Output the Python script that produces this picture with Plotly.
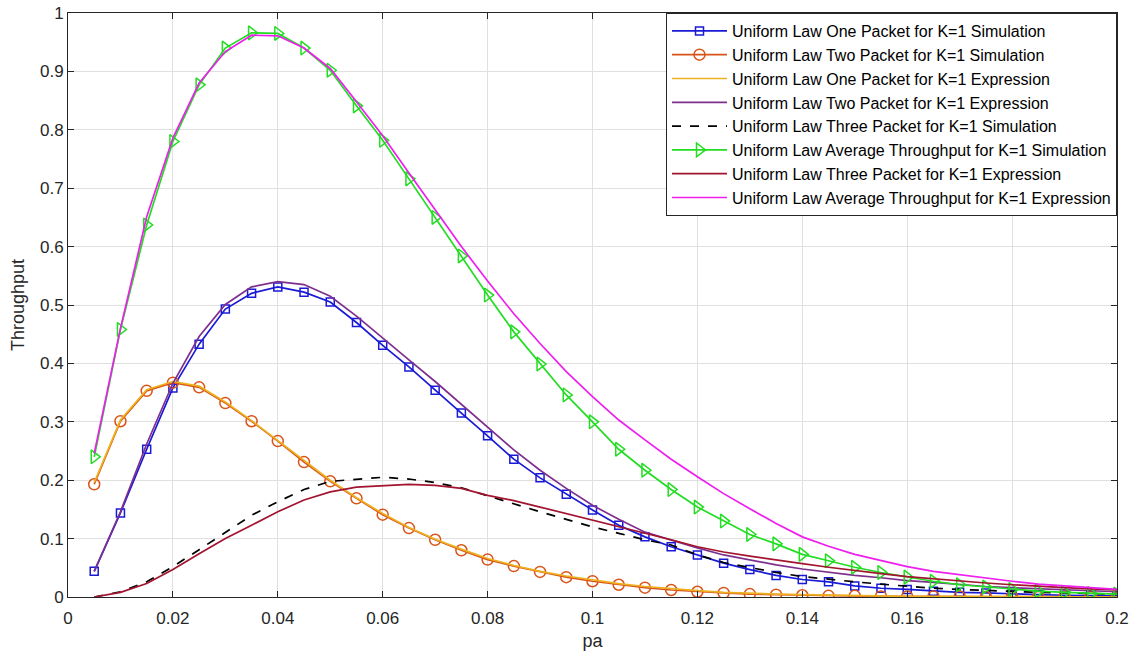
import plotly.graph_objects as go

pa = [0.005, 0.01, 0.015, 0.02, 0.025, 0.03, 0.035, 0.04, 0.045, 0.05,
      0.055, 0.06, 0.065, 0.07, 0.075, 0.08, 0.085, 0.09, 0.095, 0.1,
      0.105, 0.11, 0.115, 0.12, 0.125, 0.13, 0.135, 0.14, 0.145, 0.15,
      0.155, 0.16, 0.165, 0.17, 0.175, 0.18, 0.185, 0.19, 0.195, 0.2]

one_sim = [0.044, 0.144, 0.253, 0.358, 0.433, 0.493, 0.520, 0.531, 0.522, 0.505,
           0.470, 0.431, 0.394, 0.354, 0.315, 0.276, 0.236, 0.204, 0.176, 0.149,
           0.123, 0.103, 0.086, 0.072, 0.058, 0.047, 0.037, 0.030, 0.026, 0.019,
           0.015, 0.013, 0.010, 0.008, 0.007, 0.005, 0.004, 0.003, 0.003, 0.002]

two_sim = [0.193, 0.301, 0.353, 0.367, 0.359, 0.332, 0.301, 0.267, 0.231, 0.198,
           0.169, 0.141, 0.118, 0.098, 0.080, 0.064, 0.053, 0.043, 0.034, 0.027,
           0.021, 0.016, 0.012, 0.009, 0.007, 0.005, 0.004, 0.003, 0.002, 0.002,
           0.001, 0.001, 0.001, 0.001, 0.000, 0.000, 0.000, 0.000, 0.000, 0.000]

one_expr = [0.196, 0.303, 0.355, 0.369, 0.361, 0.334, 0.302, 0.268, 0.233, 0.200,
            0.170, 0.143, 0.119, 0.099, 0.082, 0.066, 0.054, 0.044, 0.036, 0.029,
            0.023, 0.018, 0.014, 0.011, 0.008, 0.006, 0.005, 0.004, 0.003, 0.002,
            0.002, 0.001, 0.001, 0.001, 0.001, 0.000, 0.000, 0.000, 0.000, 0.000]

two_expr = [0.044, 0.146, 0.262, 0.366, 0.446, 0.501, 0.531, 0.540, 0.535, 0.515,
            0.481, 0.443, 0.406, 0.369, 0.330, 0.291, 0.252, 0.217, 0.186, 0.157,
            0.133, 0.111, 0.097, 0.084, 0.072, 0.063, 0.055, 0.048, 0.042, 0.037,
            0.033, 0.028, 0.025, 0.021, 0.018, 0.016, 0.014, 0.012, 0.010, 0.009]

three_sim = [0.000, 0.009, 0.026, 0.052, 0.081, 0.111, 0.140, 0.163, 0.184, 0.198,
             0.202, 0.205, 0.202, 0.196, 0.187, 0.173, 0.160, 0.146, 0.133, 0.120,
             0.109, 0.098, 0.089, 0.072, 0.059, 0.050, 0.042, 0.035, 0.030, 0.026,
             0.022, 0.018, 0.015, 0.013, 0.011, 0.009, 0.008, 0.007, 0.006, 0.005]

avg_sim = [0.240, 0.458, 0.637, 0.780, 0.877, 0.940, 0.966, 0.965, 0.940, 0.902,
           0.841, 0.782, 0.716, 0.650, 0.584, 0.517, 0.454, 0.399, 0.346, 0.300,
           0.253, 0.217, 0.184, 0.154, 0.130, 0.107, 0.091, 0.073, 0.062, 0.051,
           0.042, 0.034, 0.027, 0.021, 0.017, 0.013, 0.010, 0.008, 0.006, 0.005]

three_expr = [0.000, 0.008, 0.023, 0.047, 0.074, 0.100, 0.123, 0.146, 0.166, 0.180,
              0.188, 0.191, 0.193, 0.191, 0.186, 0.174, 0.165, 0.154, 0.143, 0.131,
              0.121, 0.110, 0.098, 0.086, 0.077, 0.070, 0.063, 0.057, 0.051, 0.045,
              0.040, 0.035, 0.031, 0.027, 0.024, 0.021, 0.018, 0.016, 0.014, 0.012]

avg_expr = [0.246, 0.460, 0.651, 0.786, 0.880, 0.934, 0.962, 0.961, 0.940, 0.905,
            0.848, 0.790, 0.726, 0.663, 0.600, 0.541, 0.485, 0.434, 0.386, 0.343,
            0.303, 0.269, 0.236, 0.206, 0.177, 0.151, 0.126, 0.103, 0.087, 0.073,
            0.062, 0.052, 0.044, 0.038, 0.032, 0.027, 0.022, 0.019, 0.016, 0.013]

x_ticks = [0, 0.02, 0.04, 0.06, 0.08, 0.1, 0.12, 0.14, 0.16, 0.18, 0.2]
x_labels = ["0", "0.02", "0.04", "0.06", "0.08", "0.1", "0.12", "0.14", "0.16", "0.18", "0.2"]
y_ticks = [0, 0.1, 0.2, 0.3, 0.4, 0.5, 0.6, 0.7, 0.8, 0.9, 1]
y_labels = ["0", "0.1", "0.2", "0.3", "0.4", "0.5", "0.6", "0.7", "0.8", "0.9", "1"]

series = [
    ("Uniform Law One Packet for K=1 Simulation", one_sim, "#1a1ad6", "solid", "square-open", 8),
    ("Uniform Law Two Packet for K=1 Simulation", two_sim, "#D95319", "solid", "circle-open", 11),
    ("Uniform Law One Packet for K=1 Expression", one_expr, "#EDB120", "solid", None, 0),
    ("Uniform Law Two Packet for K=1 Expression", two_expr, "#7E2F8E", "solid", None, 0),
    ("Uniform Law Three Packet for K=1 Simulation", three_sim, "#000000", "dash", None, 0),
    ("Uniform Law Average Throughput for K=1 Simulation", avg_sim, "#22dd22", "solid", "triangle-right-open", 12),
    ("Uniform Law Three Packet for K=1 Expression", three_expr, "#A2142F", "solid", None, 0),
    ("Uniform Law Average Throughput for K=1 Expression", avg_expr, "#EE1EEE", "solid", None, 0),
]

FONT = "Liberation Sans, Arial, sans-serif"

fig = go.Figure()
for name, vals, color, dash, sym, size in series:
    if sym:
        fig.add_trace(go.Scatter(
            x=pa, y=vals, name=name, mode="lines+markers",
            line=dict(color=color, width=1.7, dash=dash),
            marker=dict(symbol=sym, size=size, color=color, line=dict(width=1.5, color=color)),
        ))
    else:
        fig.add_trace(go.Scatter(
            x=pa, y=vals, name=name, mode="lines",
            line=dict(color=color, width=1.7, dash=dash),
        ))

axis_font = dict(family=FONT, size=17, color="#262626")
title_font = dict(family=FONT, size=18, color="#262626")

fig.update_layout(
    width=1137, height=660,
    paper_bgcolor="white", plot_bgcolor="white",
    margin=dict(l=68, r=20, t=13, b=63),
    font=dict(family=FONT, color="#262626"),
    legend=dict(
        x=1, y=1, xanchor="right", yanchor="top",
        bgcolor="white", bordercolor="#262626", borderwidth=1,
        font=dict(family=FONT, size=16, color="#000000"),
        tracegroupgap=0, itemwidth=55,
    ),
    showlegend=True,
)

fig.add_annotation(
    text="Throughput", xref="paper", yref="paper",
    x=-50 / 1049, y=0.5, xanchor="center", yanchor="middle",
    textangle=-90, showarrow=False, font=title_font,
)

fig.update_xaxes(
    range=[0, 0.2], tickvals=x_ticks, ticktext=x_labels,
    showgrid=True, gridcolor="#e0e0e0", gridwidth=1,
    showline=True, linecolor="#262626", linewidth=1, mirror="ticks",
    ticks="inside", ticklen=6, tickcolor="#262626",
    tickfont=axis_font, zeroline=False, automargin=False,
    ticklabelstandoff=6,
    title=dict(text="pa", font=title_font, standoff=6),
)
fig.update_yaxes(
    range=[0, 1], tickvals=y_ticks, ticktext=y_labels,
    showgrid=True, gridcolor="#e0e0e0", gridwidth=1,
    showline=True, linecolor="#262626", linewidth=1, mirror="ticks",
    ticks="inside", ticklen=6, tickcolor="#262626",
    tickfont=axis_font, zeroline=False, automargin=False,
)

fig.write_html(
    "out.html",
    config={"displayModeBar": False},
    post_script="document.body.style.margin='0';document.body.style.overflow='hidden';",
)
